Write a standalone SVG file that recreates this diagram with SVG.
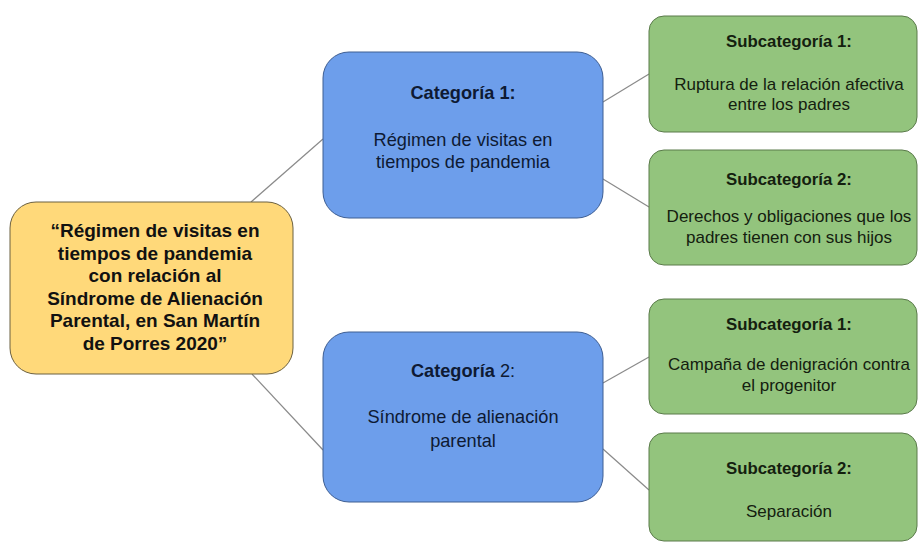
<svg xmlns="http://www.w3.org/2000/svg" width="918" height="542" viewBox="0 0 918 542">
<style>
.t{font-family:"Liberation Sans",Arial,sans-serif;text-anchor:middle}
.y{fill:#ffd97a;stroke:#6b6040;stroke-width:1}
.b{fill:#6d9eeb;stroke:#3e5e92;stroke-width:1}
.g{fill:#93c47d;stroke:#5a7a4a;stroke-width:1}
.yt{font-size:19px;font-weight:bold;fill:#111}
.bt{font-size:18.2px;fill:#0e1a33}
.gh{font-size:16.8px;font-weight:bold;fill:#14200f}
.gt{font-size:17px;fill:#14200f}
.c{stroke:#8a8a8a;stroke-width:1.2;fill:none}
</style>
<rect width="918" height="542" fill="#ffffff"/>
<g id="connectors">
<line class="c" x1="251" y1="202" x2="323" y2="139"/>
<line class="c" x1="252" y1="374" x2="323" y2="450"/>
<line class="c" x1="603" y1="102" x2="649" y2="74"/>
<line class="c" x1="603" y1="179" x2="649" y2="207"/>
<line class="c" x1="603" y1="383" x2="649" y2="357"/>
<line class="c" x1="603" y1="449" x2="649" y2="490"/>
</g>
<g id="main">
<rect class="y" x="10" y="202" width="283" height="172" rx="26"/>
<text class="t yt" x="155"><tspan x="155" y="237">“Régimen de visitas en</tspan><tspan x="155" y="259.5">tiempos de pandemia</tspan><tspan x="155" y="282">con relación al</tspan><tspan x="155" y="304.5">Síndrome de Alienación</tspan><tspan x="155" y="327">Parental, en San Martín</tspan><tspan x="155" y="349.5">de Porres 2020”</tspan></text>
</g>
<g id="cat1">
<rect class="b" x="323" y="52" width="280" height="166" rx="26"/>
<text class="t bt" x="463" y="99" font-weight="bold">Categoría 1:</text>
<text class="t bt" x="463"><tspan x="463" y="146">Régimen de visitas en</tspan><tspan x="463" y="168">tiempos de pandemia</tspan></text>
</g>
<g id="cat2">
<rect class="b" x="323" y="332" width="280" height="170" rx="26"/>
<text class="t bt" x="463" y="377"><tspan font-weight="bold">Categoría</tspan> 2:</text>
<text class="t bt" x="463"><tspan x="463" y="423">Síndrome de alienación</tspan><tspan x="463" y="447">parental</tspan></text>
</g>
<g id="sub11">
<rect class="g" x="649" y="16" width="268" height="116" rx="15"/>
<text class="t gh" x="789" y="47">Subcategoría 1:</text>
<text class="t gt" x="789"><tspan x="789" y="90">Ruptura de la relación afectiva</tspan><tspan x="789" y="110">entre los padres</tspan></text>
</g>
<g id="sub12">
<rect class="g" x="649" y="150" width="268" height="115" rx="15"/>
<text class="t gh" x="789" y="185">Subcategoría 2:</text>
<text class="t gt" x="789"><tspan x="789" y="222">Derechos y obligaciones que los</tspan><tspan x="789" y="243">padres tienen con sus hijos</tspan></text>
</g>
<g id="sub21">
<rect class="g" x="649" y="299" width="268" height="115" rx="15"/>
<text class="t gh" x="789" y="330">Subcategoría 1:</text>
<text class="t gt" x="789"><tspan x="789" y="370">Campaña de denigración contra</tspan><tspan x="789" y="391">el progenitor</tspan></text>
</g>
<g id="sub22">
<rect class="g" x="649" y="433" width="268" height="108" rx="15"/>
<text class="t gh" x="789" y="474">Subcategoría 2:</text>
<text class="t gt" x="789" y="517">Separación</text>
</g>
</svg>
